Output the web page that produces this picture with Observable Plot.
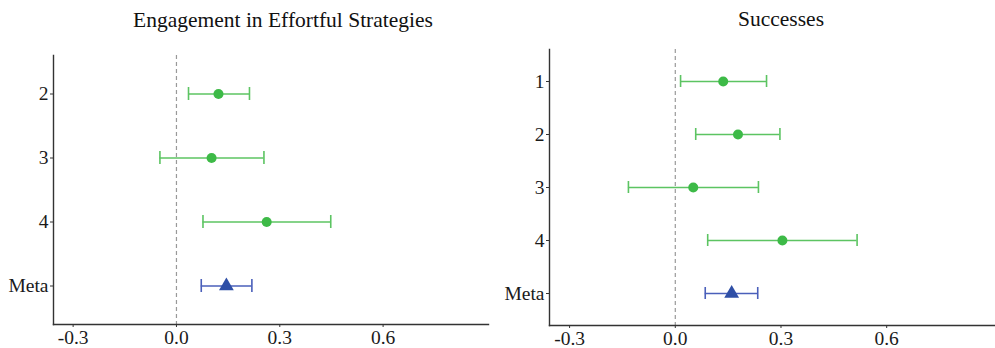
<!DOCTYPE html>
<html>
<head>
<meta charset="utf-8">
<script src="https://cdn.jsdelivr.net/npm/d3@7"></script>
<script src="https://cdn.jsdelivr.net/npm/@observablehq/plot@0.6"></script>
<style>
  body { margin: 0; background: #fff; }
  #row { display: flex; width: 995px; height: 348px; }
  svg text { font-family: "Liberation Serif", "Times New Roman", serif; }
</style>
</head>
<body>
<div id="row"></div>
<script>
// ---- Data ----
const xTicks = [-0.3, 0.0, 0.3, 0.6];

const leftTitle = "Engagement in Effortful Strategies";
const leftRows = ["2", "3", "4", "Meta"];
const leftEst  = [0.122, 0.102, 0.262, 0.145];
const leftLo   = [0.035, -0.048, 0.077, 0.072];
const leftHi   = [0.212, 0.254, 0.448, 0.219];

const rightTitle = "Successes";
const rightRows = ["1", "2", "3", "4", "Meta"];
const rightEst  = [0.136, 0.178, 0.051, 0.304, 0.160];
const rightLo   = [0.015, 0.058, -0.133, 0.092, 0.085];
const rightHi   = [0.259, 0.297, 0.236, 0.516, 0.234];

const GREEN = "#3dba47", GREEN_LINE = "#5cc462";
const BLUE = "#2f4fa6", BLUE_LINE = "#4a5fba";
const FONT = "Liberation Serif, Times New Roman, serif";

function panel({title, rows, est, lo, hi, width, margins, paddingInner, paddingOuter, titleDx, titleDy}) {
  const data = rows.map((r, i) => ({row: r, est: est[i], lo: lo[i], hi: hi[i], meta: r === "Meta"}));
  const studies = data.filter(d => !d.meta);
  const meta = data.filter(d => d.meta);
  const xDomain = [-0.357, 0.906];
  return Plot.plot({
    width, height: 348,
    marginLeft: margins[0], marginRight: margins[1], marginTop: margins[2], marginBottom: margins[3],
    style: {fontFamily: FONT, background: "#fff", overflow: "visible"},
    x: {domain: xDomain, ticks: xTicks, tickFormat: d => d.toFixed(1), label: null},
    y: {domain: rows, type: "band", paddingInner, paddingOuter, label: null},
    marks: [
      Plot.ruleX([0], {stroke: "#999", strokeWidth: 1.2, strokeDasharray: "4,3"}),
      Plot.frame({anchor: "left", stroke: "#333", strokeWidth: 1.4}),
      Plot.frame({anchor: "bottom", stroke: "#333", strokeWidth: 1.4}),
      Plot.axisX({ticks: xTicks, tickFormat: d => d.toFixed(1), tickSize: 3, tickPadding: 3, fontSize: 19.5, fontFamily: FONT, fill: "#1a1a1a", stroke: "#333", label: null}),
      Plot.axisY({tickSize: 3, tickPadding: 2, fontSize: 19.5, fontFamily: FONT, fill: "#1a1a1a", stroke: "#333", label: null}),
      Plot.ruleY(studies, {y: "row", x1: "lo", x2: "hi", stroke: GREEN_LINE, strokeWidth: 1.6}),
      Plot.tickX(studies, {y: "row", x: "lo", stroke: GREEN_LINE, strokeWidth: 1.6}),
      Plot.tickX(studies, {y: "row", x: "hi", stroke: GREEN_LINE, strokeWidth: 1.6}),
      Plot.ruleY(meta, {y: "row", x1: "lo", x2: "hi", stroke: BLUE_LINE, strokeWidth: 1.6}),
      Plot.tickX(meta, {y: "row", x: "lo", stroke: BLUE_LINE, strokeWidth: 1.6}),
      Plot.tickX(meta, {y: "row", x: "hi", stroke: BLUE_LINE, strokeWidth: 1.6}),
      Plot.dot(studies, {y: "row", x: "est", r: 5, fill: GREEN, stroke: null}),
      Plot.dot(meta, {y: "row", x: "est", symbol: "triangle", r: 5.5, fill: BLUE, stroke: null}),
      Plot.text([title], {frameAnchor: "top", lineAnchor: "middle", dx: titleDx, dy: titleDy, fontSize: 21.5, fill: "#111", fontFamily: FONT})
    ]
  });
}

const row = document.getElementById("row");
row.appendChild(panel({
  title: leftTitle, rows: leftRows, est: leftEst, lo: leftLo, hi: leftHi,
  width: 497, margins: [53, 9, 55, 24], paddingInner: 0.798, paddingOuter: 0.495,
  titleDx: 12, titleDy: -35
}));
row.appendChild(panel({
  title: rightTitle, rows: rightRows, est: rightEst, lo: rightLo, hi: rightHi,
  width: 498, margins: [52, 1, 49, 23], paddingInner: 0.774, paddingOuter: 0.477,
  titleDx: 9, titleDy: -30
}));
</script>
</body>
</html>
